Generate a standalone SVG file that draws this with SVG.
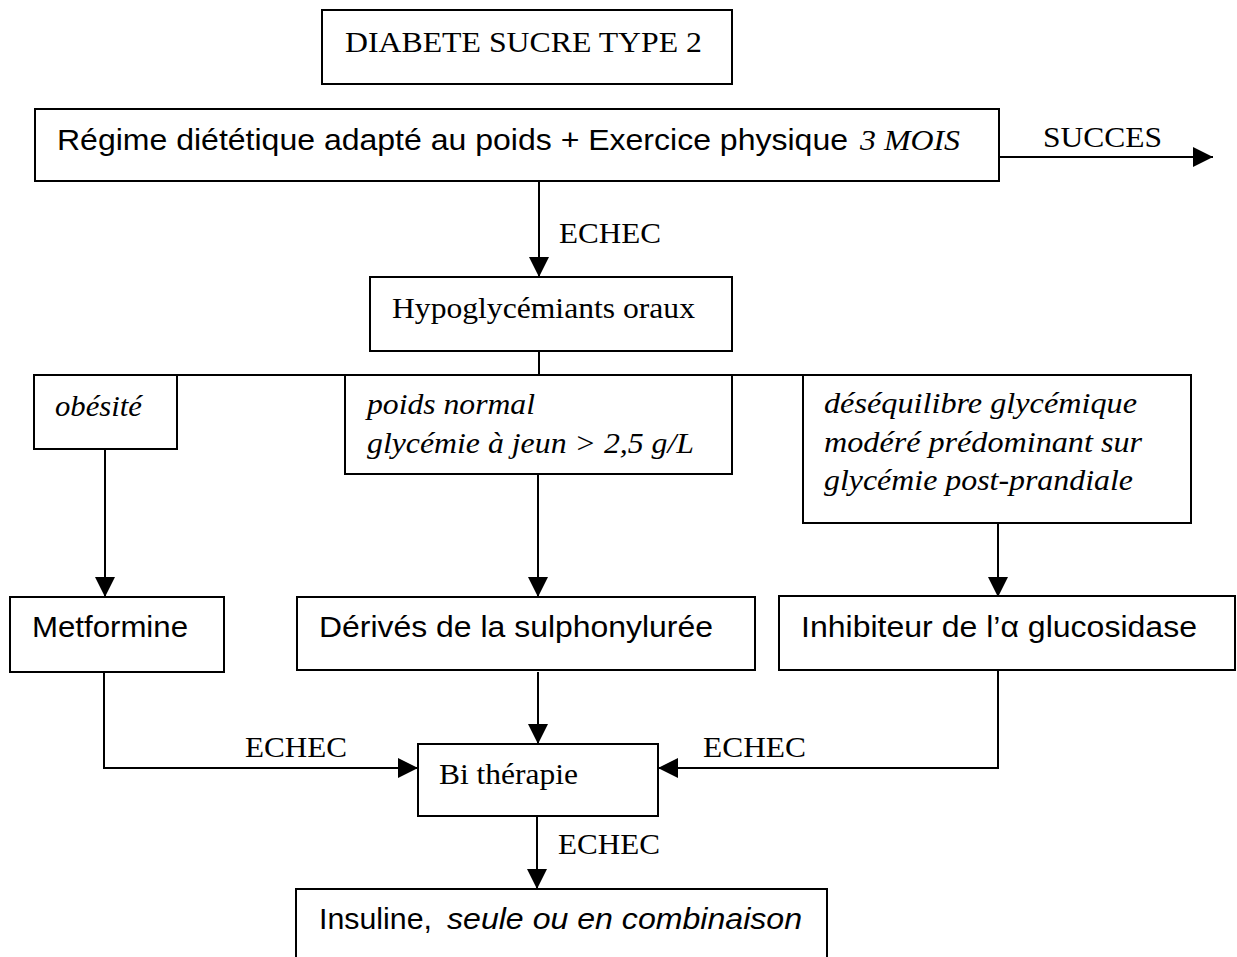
<svg xmlns="http://www.w3.org/2000/svg" width="1237" height="957" viewBox="0 0 1237 957">
<defs>
<style>
.box{fill:#fff;stroke:#000;stroke-width:2}
.ln{fill:none;stroke:#000;stroke-width:2}
.t{font-family:"Liberation Serif","Times New Roman",serif;font-size:30px;fill:#000}
.ti{font-family:"Liberation Serif","Times New Roman",serif;font-size:30px;font-style:italic;fill:#000}
.a{font-family:"Liberation Sans",Arial,sans-serif;font-size:30px;fill:#000}
.ai{font-family:"Liberation Sans",Arial,sans-serif;font-size:30px;font-style:italic;fill:#000}
</style>
<marker id="arr" markerUnits="userSpaceOnUse" markerWidth="20" markerHeight="20" refX="20" refY="10" orient="auto">
<path d="M0,0 L20,10 L0,20 Z" fill="#000"/>
</marker>
</defs>
<rect width="1237" height="957" fill="#fff"/>

<g id="connectors">
<line class="ln" x1="539" y1="182" x2="539" y2="277" marker-end="url(#arr)"/>
<line class="ln" x1="999" y1="157" x2="1213" y2="157" marker-end="url(#arr)"/>
<line class="ln" x1="539" y1="351" x2="539" y2="375"/>
<line class="ln" x1="34" y1="375" x2="1191" y2="375"/>
<line class="ln" x1="105" y1="449" x2="105" y2="597" marker-end="url(#arr)"/>
<line class="ln" x1="538" y1="474" x2="538" y2="597" marker-end="url(#arr)"/>
<line class="ln" x1="998" y1="523" x2="998" y2="597" marker-end="url(#arr)"/>
<line class="ln" x1="538" y1="672" x2="538" y2="744" marker-end="url(#arr)"/>
<path class="ln" d="M104,672 V768 H418" marker-end="url(#arr)"/>
<path class="ln" d="M998,671 V768 H658" marker-end="url(#arr)"/>
<line class="ln" x1="537" y1="816" x2="537" y2="889" marker-end="url(#arr)"/>
<text class="t" x="559" y="243" textLength="102" lengthAdjust="spacingAndGlyphs">ECHEC</text>
<text class="t" x="1043" y="147" textLength="119" lengthAdjust="spacingAndGlyphs">SUCCES</text>
<text class="t" x="245" y="757" textLength="102" lengthAdjust="spacingAndGlyphs">ECHEC</text>
<text class="t" x="703" y="757" textLength="103" lengthAdjust="spacingAndGlyphs">ECHEC</text>
<text class="t" x="558" y="854" textLength="102" lengthAdjust="spacingAndGlyphs">ECHEC</text>
</g>

<g id="n-title">
<rect class="box" x="322" y="10" width="410" height="74"/>
<text class="t" x="345" y="52" textLength="357" lengthAdjust="spacingAndGlyphs">DIABETE SUCRE TYPE 2</text>
</g>

<g id="n-regime">
<rect class="box" x="35" y="109" width="964" height="72"/>
<text class="a" x="57" y="150" textLength="791" lengthAdjust="spacingAndGlyphs">Régime diététique adapté au poids + Exercice physique</text>
<text class="ti" x="860" y="150" textLength="100" lengthAdjust="spacingAndGlyphs">3 MOIS</text>
</g>

<g id="n-hypo">
<rect class="box" x="370" y="277" width="362" height="74"/>
<text class="t" x="392" y="318" textLength="303" lengthAdjust="spacingAndGlyphs">Hypoglycémiants oraux</text>
</g>

<g id="n-obesite">
<rect class="box" x="34" y="375" width="143" height="74"/>
<text class="ti" x="55" y="416" textLength="87" lengthAdjust="spacingAndGlyphs">obésité</text>
</g>

<g id="n-poids">
<rect class="box" x="345" y="375" width="387" height="99"/>
<text class="ti" x="367" y="414" textLength="168" lengthAdjust="spacingAndGlyphs">poids normal</text>
<text class="ti" x="367" y="453" textLength="327" lengthAdjust="spacingAndGlyphs">glycémie à jeun &gt; 2,5 g/L</text>
</g>

<g id="n-deseq">
<rect class="box" x="803" y="375" width="388" height="148"/>
<text class="ti" x="824" y="413" textLength="313" lengthAdjust="spacingAndGlyphs">déséquilibre glycémique</text>
<text class="ti" x="824" y="452" textLength="318" lengthAdjust="spacingAndGlyphs">modéré prédominant sur</text>
<text class="ti" x="824" y="490" textLength="309" lengthAdjust="spacingAndGlyphs">glycémie post-prandiale</text>
</g>

<g id="n-metformine">
<rect class="box" x="10" y="597" width="214" height="75"/>
<text class="a" x="32" y="637" textLength="156" lengthAdjust="spacingAndGlyphs">Metformine</text>
</g>

<g id="n-derives">
<rect class="box" x="297" y="597" width="458" height="73"/>
<text class="a" x="319" y="637" textLength="394" lengthAdjust="spacingAndGlyphs">Dérivés de la sulphonylurée</text>
</g>

<g id="n-inhibiteur">
<rect class="box" x="779" y="596" width="456" height="74"/>
<text class="a" x="801" y="637" textLength="396" lengthAdjust="spacingAndGlyphs">Inhibiteur de l’α glucosidase</text>
</g>

<g id="n-bi">
<rect class="box" x="418" y="744" width="240" height="72"/>
<text class="t" x="439" y="784" textLength="139" lengthAdjust="spacingAndGlyphs">Bi thérapie</text>
</g>

<g id="n-insuline">
<rect class="box" x="296" y="889" width="531" height="90"/>
<text class="a" x="319" y="929" textLength="113" lengthAdjust="spacingAndGlyphs">Insuline,</text>
<text class="ai" x="447" y="929" textLength="355" lengthAdjust="spacingAndGlyphs">seule ou en combinaison</text>
</g>
</svg>
